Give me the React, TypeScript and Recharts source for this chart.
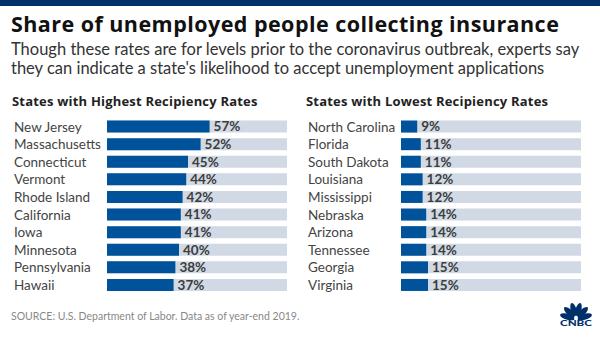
import React from 'react';
import { BarChart, Bar, XAxis, YAxis, LabelList } from 'recharts';

const title = 'Share of unemployed people collecting insurance';
const subtitleLines = [
  'Though these rates are for levels prior to the coronavirus outbreak, experts say',
  "they can indicate a state's likelihood to accept unemployment applications",
];
const highestHeading = 'States with Highest Recipiency Rates';
const lowestHeading = 'States with Lowest Recipiency Rates';
const sourceText = 'SOURCE: U.S. Department of Labor. Data as of year-end 2019.';

const highestStates = ['New Jersey', 'Massachusetts', 'Connecticut', 'Vermont', 'Rhode Island', 'California', 'Iowa', 'Minnesota', 'Pennsylvania', 'Hawaii'];
const highestRates = [57, 52, 45, 44, 42, 41, 41, 40, 38, 37];
const lowestStates = ['North Carolina', 'Florida', 'South Dakota', 'Louisiana', 'Mississippi', 'Nebraska', 'Arizona', 'Tennessee', 'Georgia', 'Virginia'];
const lowestRates = [9, 11, 11, 12, 12, 14, 14, 14, 15, 15];
const scaleDomain = [0, 100];

const FONT = 'Lato, "Open Sans", sans-serif';
const BOLD_FONT = '"Open Sans", Lato, sans-serif';
const BAR = '#00539b';
const BG = '#d0d9e4';
const NAVY = '#00306b';

const CHART_TOP = 117.5;
const CHART_H = 176;

function makeTick(labelX: number) {
  return (props: any) => {
    const { y, payload } = props;
    return (
      <text x={labelX} y={y} dy="0.36em" textAnchor="start" fill="#444" fontSize={13.5} fontFamily={FONT}>
        {payload.value}
      </text>
    );
  };
}

function Panel({ states, rates, left, axisWidth, rightMargin, labelX }: any) {
  const data = states.map((s: string, i: number) => ({ name: s, value: rates[i] }));
  return (
    <div style={{ position: 'absolute', left, top: CHART_TOP }}>
      <BarChart
        width={300}
        height={CHART_H}
        data={data}
        layout="vertical"
        margin={{ top: 0, right: rightMargin, bottom: 0, left: 0 }}
        barCategoryGap="14.5%"
      >
        <XAxis type="number" domain={scaleDomain} hide />
        <YAxis type="category" dataKey="name" width={axisWidth} axisLine={false} tickLine={false} interval={0} tick={makeTick(labelX)} />
        <Bar dataKey="value" fill={BAR} background={{ fill: BG }} isAnimationActive={false}>
          <LabelList
            dataKey="value"
            position="right"
            offset={4}
            formatter={(v: any) => `${v}%`}
            fill="#3d3d3d"
            style={{ fontWeight: 700, fontSize: 13.5, fontFamily: FONT }}
          />
        </Bar>
      </BarChart>
    </div>
  );
}

function Peacock({ cx, by }: { cx: number; by: number }) {
  const angles = [-75, -45, -15, 15, 45, 75];
  return (
    <g>
      {angles.map((a) => {
        const r = 8.5;
        const rad = (a * Math.PI) / 180;
        const x = cx + r * Math.sin(rad);
        const y = by - r * Math.cos(rad);
        return <ellipse key={a} cx={x} cy={y} rx={3} ry={8} fill={NAVY} transform={`rotate(${a} ${x} ${y})`} />;
      })}
      <ellipse cx={cx} cy={by - 1} rx={2} ry={2.6} fill="#fff" />
    </g>
  );
}

export default function App() {
  return (
    <div style={{ position: 'absolute', left: 0, top: 0, width: 600, height: 338, background: '#fff', overflow: 'hidden', fontFamily: FONT }}>
      <svg width={600} height={338} style={{ position: 'absolute', left: 0, top: 0 }}>
        <rect x={0} y={0} width={600} height={6} fill={NAVY} />
        <text x={11} y={32.3} fontSize={21.5} fontWeight={700} fill="#111" fontFamily={BOLD_FONT} letterSpacing={0.45}>{title}</text>
        <text x={11} y={55} fontSize={16.5} fill="#333" fontFamily={FONT}>{subtitleLines[0]}</text>
        <text x={11} y={74} fontSize={16.5} fill="#333" fontFamily={FONT}>{subtitleLines[1]}</text>
        <text x={12} y={105.5} fontSize={13} fontWeight={700} fill="#222" fontFamily={BOLD_FONT} letterSpacing={0.2}>{highestHeading}</text>
        <text x={306} y={105.5} fontSize={13} fontWeight={700} fill="#222" fontFamily={BOLD_FONT} letterSpacing={0.2}>{lowestHeading}</text>
        <text x={11} y={320} fontSize={10.5} fill="#888" fontFamily={FONT}>{sourceText}</text>
        <Peacock cx={576} by={319} />
        <text x={560} y={326} fontSize={6.5} fontWeight={900} fill={NAVY} fontFamily={FONT} textLength={32} lengthAdjust="spacingAndGlyphs">CNBC</text>
      </svg>
      <Panel states={highestStates} rates={highestRates} left={0} axisWidth={107} rightMargin={13} labelX={14} />
      <Panel states={lowestStates} rates={lowestRates} left={300} axisWidth={101} rightMargin={19} labelX={8} />
    </div>
  );
}
